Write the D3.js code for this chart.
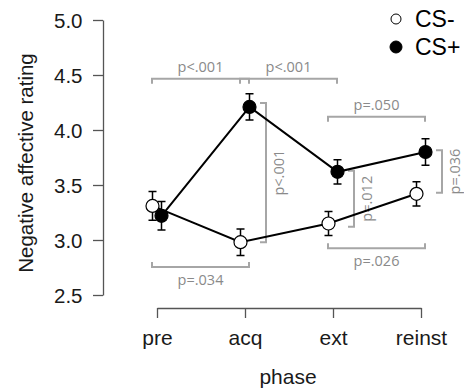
<!DOCTYPE html>
<html><head><meta charset="utf-8">
<script src="https://cdn.jsdelivr.net/npm/d3@7"></script>
<style>
body{margin:0;background:#fff;}
svg{display:block;}
</style></head>
<body>
<svg id="chart" width="464" height="390"></svg>
<script>
// ---- data ----
const phases = ["pre", "acq", "ext", "reinst"];
const csMinus = [3.31, 2.98, 3.15, 3.42];
const csMinusSE = [0.13, 0.12, 0.11, 0.11];
const csPlus = [3.22, 4.21, 3.62, 3.80];
const csPlusSE = [0.13, 0.12, 0.11, 0.12];
const yTicks = [2.5, 3.0, 3.5, 4.0, 4.5, 5.0];
const seriesNames = ["CS-", "CS+"];
// horizontal comparisons: from, to, level (rating units), label, side
const hComps = [
  {from: "pre", to: "acq", level: 4.465, label: "p<.001", side: "top"},
  {from: "acq", to: "ext", level: 4.465, label: "p<.001", side: "top"},
  {from: "ext", to: "reinst", level: 4.12, label: "p=.050", side: "top"},
  {from: "pre", to: "acq", level: 2.755, label: "p=.034", side: "bottom"},
  {from: "ext", to: "reinst", level: 2.925, label: "p=.026", side: "bottom"}
];
// vertical comparisons within phase: phase, lo, hi, label
const vComps = [
  {phase: "acq", lo: 2.98, hi: 4.245, label: "p<.001"},
  {phase: "ext", lo: 3.12, hi: 3.63, label: "p=.012"},
  {phase: "reinst", lo: 3.43, hi: 3.815, label: "p=.036"}
];

// ---- layout ----
const svg = d3.select("#chart");
const x = d3.scalePoint().domain(phases).range([157, 421]);
const y = d3.scaleLinear().domain([2.5, 5.0]).range([295, 20]);
const off = {"CS-": -4.5, "CS+": 4.5};
const font = "'Liberation Sans', Arial, Helvetica, sans-serif";
const annFont = "'Open Sans', 'Liberation Sans', sans-serif";
const gray = "#a6a6a6", grayText = "#8a8a8a", axisCol = "#555", txt = "#1a1a1a";

// y axis
const yAx = svg.append("g").attr("transform", "translate(103,0)")
  .call(d3.axisLeft(y).tickValues(yTicks).tickFormat(d3.format(".1f")).tickSize(10).tickSizeOuter(0).tickPadding(10.5));
yAx.select(".domain").attr("stroke", axisCol).attr("stroke-width", 1.3);
yAx.selectAll(".tick line").attr("stroke", axisCol).attr("stroke-width", 1.3);
yAx.selectAll(".tick text").attr("font-family", font).attr("font-size", 20.5).attr("fill", txt).attr("dy", "0.36em");

// x axis
const xAx = svg.append("g").attr("transform", "translate(0,308)")
  .call(d3.axisBottom(x).tickSize(10).tickSizeOuter(0).tickPadding(0));
xAx.select(".domain").attr("stroke", axisCol).attr("stroke-width", 1.3);
xAx.selectAll(".tick line").attr("stroke", axisCol).attr("stroke-width", 1.3);
xAx.selectAll(".tick text").attr("font-family", font).attr("font-size", 21).attr("fill", txt)
  .attr("y", 37).attr("dy", 0);

// axis titles
svg.append("text").attr("x", 288).attr("y", 384)
  .attr("text-anchor", "middle").attr("font-family", font).attr("font-size", 21).attr("fill", txt).text("phase");
svg.append("text").attr("transform", "translate(33,163) rotate(-90)")
  .attr("text-anchor", "middle").attr("font-family", font).attr("font-size", 20.5).attr("fill", txt).text("Negative affective rating");

// annotations
const ann = svg.append("g");
hComps.forEach(c => {
  const x1 = x(c.from) - 5, x2 = x(c.to) + 4, yy = y(c.level);
  const leg = c.side === "top" ? 5 : -5;
  ann.append("path").attr("d", `M${x1},${yy + leg}V${yy}H${x2}V${yy + leg}`)
    .attr("fill", "none").attr("stroke", gray).attr("stroke-width", 2);
  ann.append("text").attr("x", (x1 + x2) / 2).attr("y", c.side === "top" ? yy - 7 : yy + 18)
    .attr("text-anchor", "middle").attr("font-family", annFont).attr("font-size", 14.5).attr("fill", grayText).text(c.label);
});
vComps.forEach(c => {
  const xx = x(c.phase) + 21, y1 = y(c.hi), y2 = y(c.lo);
  ann.append("path").attr("d", `M${xx - 6},${y1}H${xx}V${y2}H${xx - 6}`)
    .attr("fill", "none").attr("stroke", gray).attr("stroke-width", 2);
  ann.append("text").attr("transform", `translate(${xx + 18},${(y1 + y2) / 2}) rotate(-90)`)
    .attr("text-anchor", "middle").attr("font-family", annFont).attr("font-size", 14.5).attr("fill", grayText).text(c.label);
});

// series
const series = [
  {name: "CS-", vals: csMinus, se: csMinusSE, fill: "#fff"},
  {name: "CS+", vals: csPlus, se: csPlusSE, fill: "#000"}
];
const line = d3.line().x(d => d.x).y(d => d.y);
const ptsOf = s => phases.map((p, i) => ({x: x(p) + off[s.name], y: y(s.vals[i]), lo: y(s.vals[i] - s.se[i]), hi: y(s.vals[i] + s.se[i])}));
series.forEach(s => {
  svg.append("path").datum(ptsOf(s)).attr("d", line).attr("fill", "none").attr("stroke", "#000").attr("stroke-width", 2);
});
series.forEach(s => {
  const pts = ptsOf(s);
  const g = svg.append("g");
  pts.forEach(d => {
    g.append("path").attr("d", `M${d.x},${d.lo}V${d.hi}M${d.x - 4},${d.lo}H${d.x + 4}M${d.x - 4},${d.hi}H${d.x + 4}`)
      .attr("stroke", "#000").attr("stroke-width", 1.5).attr("fill", "none");
  });
  g.selectAll("circle").data(pts).join("circle").attr("cx", d => d.x).attr("cy", d => d.y).attr("r", 6.5)
    .attr("fill", s.fill).attr("stroke", "#000").attr("stroke-width", 1.2);
});

// legend
const leg = svg.append("g");
seriesNames.forEach((n, i) => {
  const yy = 19 + i * 28;
  leg.append("circle").attr("cx", 396).attr("cy", yy).attr("r", i === 0 ? 5 : 6)
    .attr("fill", i === 0 ? "#fff" : "#000").attr("stroke", "#000").attr("stroke-width", 1);
  leg.append("text").attr("x", 415).attr("y", yy + 8)
    .attr("font-family", font).attr("font-size", 23).attr("fill", "#000").text(n);
});
</script>
</body></html>
